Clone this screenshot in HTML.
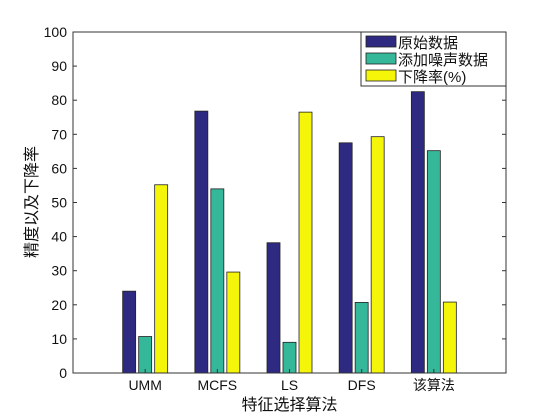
<!DOCTYPE html>
<html><head><meta charset="utf-8">
<style>
html,body{margin:0;padding:0;background:#fff;}
svg{display:block;font-family:"Liberation Sans","Noto Sans CJK SC",sans-serif;}
</style></head>
<body>
<svg id="chart" width="560" height="420"></svg>
<script>
const categories = ["UMM","MCFS","LS","DFS","该算法"];
const seriesNames = ["原始数据","添加噪声数据","下降率(%)"];
const seriesOriginal = [24.0, 76.8, 38.2, 67.5, 82.5];
const seriesNoisy = [10.7, 54.0, 9.0, 20.7, 65.2];
const seriesDrop = [55.2, 29.6, 76.5, 69.3, 20.8];
const yTicks = [0,10,20,30,40,50,60,70,80,90,100];
const colors = ["#2e2a82","#35b79a","#f5f50a"];

const NS = "http://www.w3.org/2000/svg";
const svg = document.getElementById("chart");
const L=73, R=506, T=32, B=373;
const yMin=0, yMax=100, xMin=0, xMax=6;
const xs = v => L + (v-xMin)/(xMax-xMin)*(R-L);
const ys = v => B - (v-yMin)/(yMax-yMin)*(B-T);
function mk(tag, attrs, parent){const e=document.createElementNS(NS,tag);for(const k in attrs)e.setAttribute(k,attrs[k]);(parent||svg).appendChild(e);return e;}

const bg = mk("rect",{x:L,y:T,width:R-L,height:B-T,fill:"#fff"});



const all=[seriesOriginal,seriesNoisy,seriesDrop];
const bw=13, off=[-16,0,16];
all.forEach((s,si)=>{
  s.forEach((v,i)=>{
    const cx=xs(i+1)+off[si];
    const r=mk("rect",{x:cx-bw/2,y:ys(v),width:bw,height:ys(0)-ys(v),fill:colors[si],stroke:"#222","stroke-width":0.8});
    
    
  });
});

const frame = mk("rect",{x:L,y:T,width:R-L,height:B-T,fill:"none",stroke:"#333","stroke-width":1});



yTicks.forEach(t=>{
  const y=ys(t);
  mk("line",{x1:L,y1:y,x2:L+4,y2:y,stroke:"#333"});
  mk("line",{x1:R,y1:y,x2:R-4,y2:y,stroke:"#333"});
  const tx=mk("text",{x:L-6,y:y+5,"text-anchor":"end","font-size":14,fill:"#111"});
  tx.textContent=t;
  
  
});
categories.forEach((c,i)=>{
  const x=xs(i+1);
  mk("line",{x1:x,y1:B,x2:x,y2:B-4,stroke:"#333"});
  const tx=mk("text",{x:x,y:B+17,"text-anchor":"middle","font-size":14,fill:"#111"});
  tx.textContent=c;
  
  
});

const xt=mk("text",{x:(L+R)/2,y:410,"text-anchor":"middle","font-size":16,fill:"#111"});
xt.textContent="特征选择算法";


const yt=mk("text",{x:0,y:0,"text-anchor":"middle","font-size":16,fill:"#111",transform:"translate(37,202) rotate(-90)"});
yt.textContent="精度以及下降率";



const lg=mk("g",{});


mk("rect",{x:361,y:32,width:145,height:54,fill:"#fff",stroke:"#333","stroke-width":1},lg);
seriesNames.forEach((n,i)=>{
  const y=36+i*17;
  const sw=mk("rect",{x:366,y:y,width:30,height:11,fill:colors[i],stroke:"#222","stroke-width":0.8},lg);
  
  
  const t=mk("text",{x:398,y:y+12,"font-size":15,fill:"#111"},lg);
  t.textContent=n;
  
  
});
</script>
</body></html>
